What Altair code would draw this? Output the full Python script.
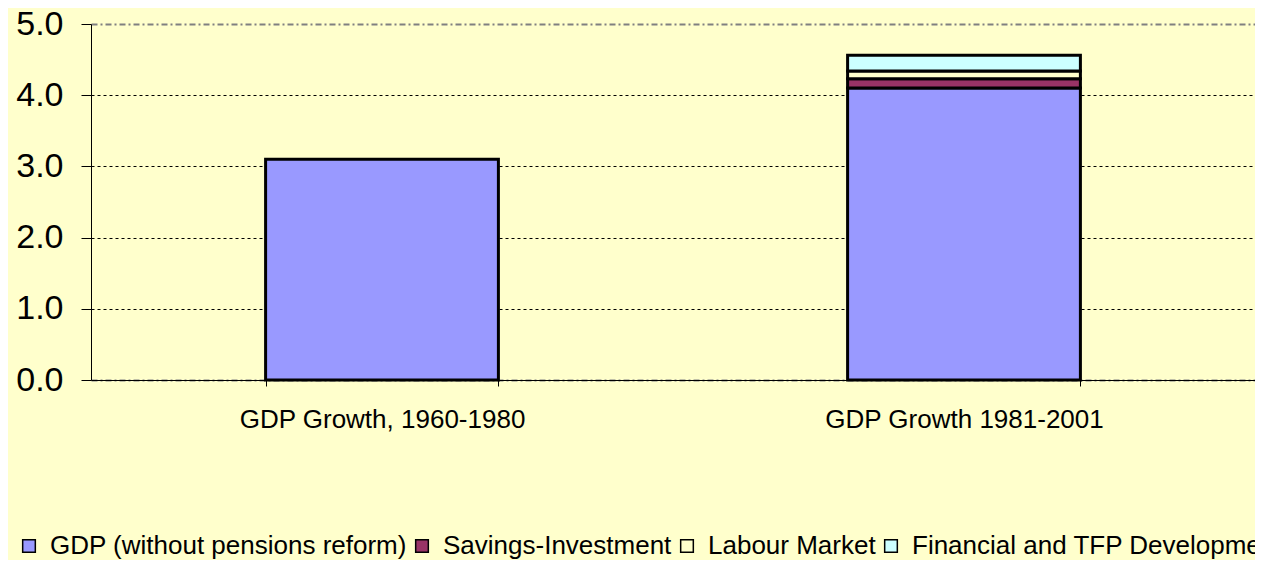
import altair as alt
import pandas as pd

periods = ["GDP Growth, 1960-1980", "GDP Growth 1981-2001"]
components = ["GDP (without pensions reform)", "Savings-Investment",
              "Labour Market", "Financial and TFP Development"]
colors = ["#9999FF", "#993366", "#FFFFCC", "#CCFFFF"]
values_1960_1980 = [3.1]
values_1981_2001 = [4.1, 0.13, 0.11, 0.22]
y_ticks = [0, 1, 2, 3, 4, 5]

rows = []
for i, v in enumerate(values_1960_1980):
    rows.append({"period": periods[0], "component": components[i], "order": i, "value": v})
for i, v in enumerate(values_1981_2001):
    rows.append({"period": periods[1], "component": components[i], "order": i, "value": v})
df = pd.DataFrame(rows)

FONT = "Liberation Sans"

chart = alt.Chart(df).mark_bar(stroke="black", strokeWidth=3).encode(
    x=alt.X("period:N", sort=periods, title=None,
            scale=alt.Scale(paddingInner=0.6, paddingOuter=0.3),
            axis=alt.Axis(labelAngle=0, labelFontSize=26, labelFont=FONT, labelColor="black",
                          tickBand="extent", tickSize=6, tickColor="black",
                          domainColor="black", domainWidth=1, labelPadding=20,
                          grid=False, labelLimit=600)),
    y=alt.Y("value:Q", stack="zero", title=None,
            scale=alt.Scale(domain=[0, 5], nice=False),
            axis=alt.Axis(values=y_ticks, format=".1f", labelFontSize=34, labelFont=FONT,
                          labelColor="black", tickSize=10, tickColor="black",
                          domainColor="black", domainWidth=1, labelPadding=18,
                          grid=True,
                          gridColor=alt.condition("datum.value == 5 || datum.value == 0",
                                                  alt.value("#808080"), alt.value("black")),
                          gridDash=alt.condition("datum.value == 5 || datum.value == 0",
                                                 alt.value([6, 3, 2, 3]), alt.value([3, 3])),
                          gridWidth=alt.condition("datum.value == 5 || datum.value == 0",
                                                  alt.value(2), alt.value(1)),
                          gridOpacity=1)),
    color=alt.Color("component:N", sort=components,
                    scale=alt.Scale(domain=components, range=colors),
                    legend=alt.Legend(title=None, orient="none", direction="horizontal",
                                      columns=4, legendX=-75, legendY=509,
                                      labelFontSize=26, labelFont=FONT, labelColor="black",
                                      labelLimit=800, symbolType="square", symbolSize=160,
                                      symbolStrokeColor="black", symbolStrokeWidth=1.5,
                                      labelOffset=8, columnPadding=2)),
    order=alt.Order("order:Q"),
).properties(
    width=1164, height=356,
    autosize="none",
    padding={"left": 83, "top": 16, "right": 0, "bottom": 180},
    background="#FFFFCC",
).configure_view(strokeWidth=0)

chart.save("out.html", embed_options={"renderer": "svg", "actions": False})
